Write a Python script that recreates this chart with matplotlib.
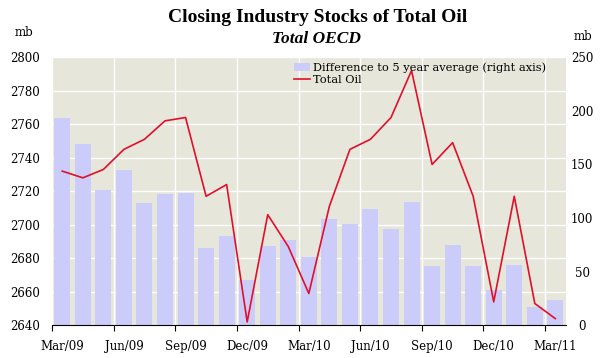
import matplotlib
matplotlib.use("Agg")
import matplotlib.pyplot as plt
import numpy as np

months = ["Mar/09", "Apr/09", "May/09", "Jun/09", "Jul/09", "Aug/09", "Sep/09",
          "Oct/09", "Nov/09", "Dec/09", "Jan/10", "Feb/10", "Mar/10", "Apr/10",
          "May/10", "Jun/10", "Jul/10", "Aug/10", "Sep/10", "Oct/10", "Nov/10",
          "Dec/10", "Jan/11", "Feb/11", "Mar/11"]

# difference to 5 year average (mb, right axis)
diff_5yr = [193, 169, 126, 145, 114, 122, 123, 72, 83, 42, 74, 80,
            64, 99, 94, 108, 90, 115, 55, 75, 55, 33, 56, 17, 24]

# total oil stocks (mb, left axis)
total_oil = [2732, 2728, 2733, 2745, 2751, 2762, 2764, 2717, 2724, 2642, 2706, 2687,
             2659, 2711, 2745, 2751, 2764, 2792, 2736, 2749, 2717, 2654, 2717, 2653, 2644]

tick_labels = ["Mar/09", "Jun/09", "Sep/09", "Dec/09", "Mar/10",
               "Jun/10", "Sep/10", "Dec/10", "Mar/11"]

bg = "#E6E6DA"
bar_color = "#CCCCFA"
line_color = "#E0102A"
serif = ["DejaVu Serif"]
fs = 8.5

fig = plt.figure(figsize=(6, 3.58), dpi=100)
ax2 = fig.add_axes([0.0867, 0.0913, 0.856, 0.749])
ax = ax2.twinx()
ax2.set_zorder(0)
ax.set_zorder(1)
ax.patch.set_visible(False)
ax2.set_facecolor(bg)

x = np.arange(len(months))

bars = ax2.bar(x, diff_5yr, width=0.78, color=bar_color, zorder=2)
ax2.set_ylim(0, 250)
ax2.set_yticks(np.arange(0, 251, 50))
ax2.yaxis.tick_right()

line, = ax.plot(x, total_oil, color=line_color, lw=1.2, zorder=3)
ax.set_ylim(2640, 2800)
ax.set_yticks(np.arange(2640, 2801, 20))
ax.yaxis.tick_left()

ax2.set_xlim(-0.5, len(months) - 0.5)
ax.set_xlim(-0.5, len(months) - 0.5)

# grid: horizontal at left ticks, vertical at quarter boundaries
for yv in np.arange(2640, 2801, 20):
    ax2.axhline((yv - 2640) / 160 * 250, color="white", lw=1, zorder=1)
major = np.arange(0, len(months), 3) - 0.5
for xv in major:
    ax2.axvline(xv, color="white", lw=1, zorder=1)

ax2.set_xticks(major)
ax2.set_xticklabels([])
ax2.set_xticks(np.arange(0, len(months), 3), minor=True)
ax2.set_xticklabels(tick_labels, minor=True, fontfamily=serif, fontsize=fs)
ax2.tick_params(axis="x", which="major", length=4, direction="out", color="black")
ax2.tick_params(axis="x", which="minor", length=0, pad=10.5)
ax.tick_params(axis="x", length=0, labelbottom=False)

ax2.tick_params(axis="y", length=0, labelsize=fs, pad=12)
ax.tick_params(axis="y", length=0, labelsize=fs, pad=8.5)
for lab in ax.get_yticklabels() + ax2.get_yticklabels():
    lab.set_fontfamily(serif)
for lab in ax2.get_yticklabels():
    lab.set_horizontalalignment("center")

for a in (ax, ax2):
    for s in ("top", "left", "right"):
        a.spines[s].set_visible(False)
ax.spines["bottom"].set_visible(False)
ax2.spines["bottom"].set_color("black")

fig.text(0.53, 0.9525, "Closing Industry Stocks of Total Oil", ha="center", va="center",
         fontsize=14, fontweight="bold", fontfamily=["Liberation Serif"])
fig.text(0.527, 0.891, "Total OECD", ha="center", va="center",
         fontsize=12.5, fontweight="bold", fontstyle="italic", fontfamily=["Liberation Serif"])
fig.text(0.04, 0.908, "mb", ha="center", va="center", fontsize=fs, fontfamily=serif)
fig.text(0.972, 0.897, "mb", ha="center", va="center", fontsize=fs, fontfamily=serif)

leg = ax.legend([bars, line], ["Difference to 5 year average (right axis)", "Total Oil"],
                loc="upper left", bbox_to_anchor=(0.455, 1.01), frameon=False,
                prop={"family": "DejaVu Serif", "size": 8.2}, handlelength=1.4,
                handletextpad=0.3, labelspacing=0.15, borderpad=0.2)

fig.savefig("out.png", dpi=100)
